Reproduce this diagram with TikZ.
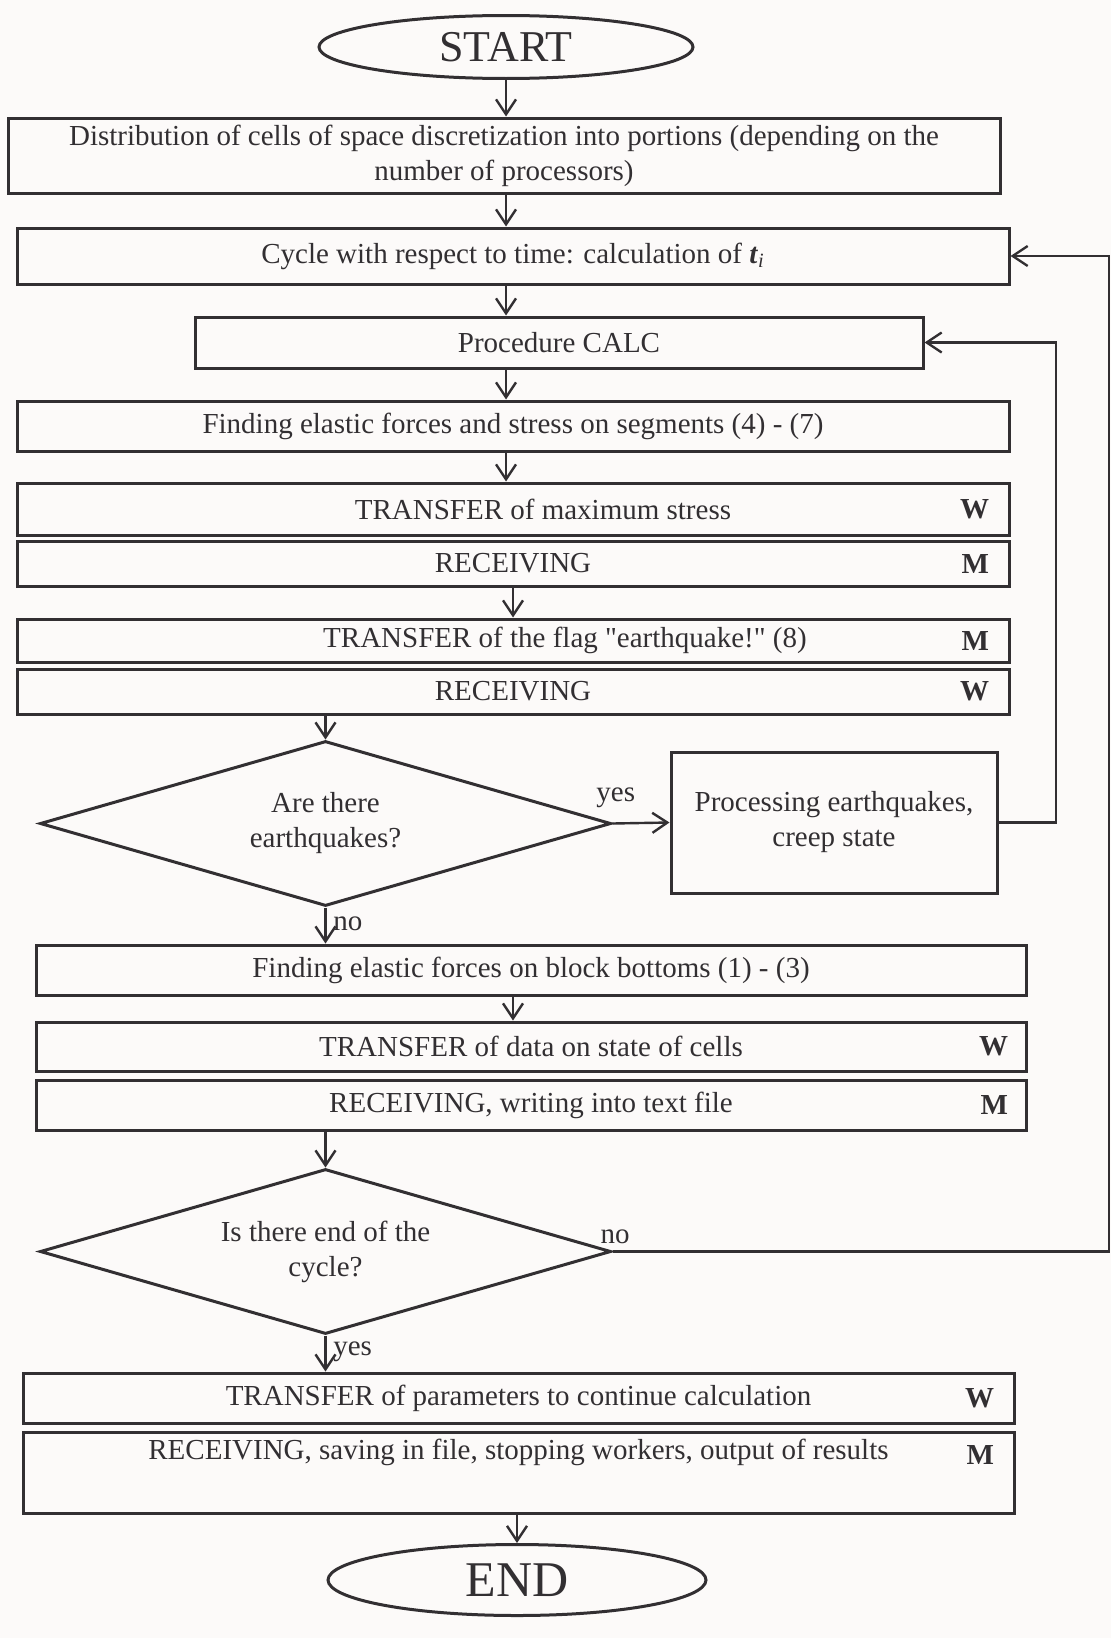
\documentclass[tikz,border=0pt]{standalone}
\usepackage{fontspec}
\setmainfont{Liberation Serif}
\newfontfamily\plainq{Liberation Serif}[Ligatures=TeXOff]
\usetikzlibrary{shapes.geometric,arrows.meta}
\definecolor{ink}{RGB}{50,47,50}
\definecolor{paper}{RGB}{252,250,249}

\begin{document}
\begin{tikzpicture}[x=0.5pt, y=-0.5pt, color=ink, line width=1.5pt,
		font=\fontsize{14.5}{17.5}\selectfont,
		blk/.style={draw, rectangle, minimum width=496pt, inner sep=0pt, align=center},
		test/.style={draw, diamond, aspect=3.46, minimum width=285.5pt, minimum height=82.5pt, inner sep=0pt, align=center},
		who/.style={anchor=east, inner sep=0pt, font=\fontsize{14.5}{17}\selectfont\bfseries},
		arr/.style={-{Straight Barb[length=7.5pt,width=10pt]}, line width=1.2pt}]
		\fill[paper] (0,0) rectangle (1111,1638);
		%
		\node[draw, ellipse, minimum width=187pt, minimum height=31.5pt, inner sep=0pt, font=\fontsize{22}{24}\selectfont] (A) at (506, 47) {START};
		\node[blk, minimum height=37.5pt] (B) at (504, 155.5) {Distribution of cells of space discretization into portions (depending on the\\number of processors)};
		\node[blk, minimum height=28pt] (C) at (513, 256) {Cycle with respect to time: calculation of \textbf{\textit{t}}\textsubscript{\textit{i}}};
		\node[blk, minimum width=364pt, minimum height=25.5pt] (D) at (559, 342.5) {Procedure CALC};
		\node[blk, minimum height=25pt] (E) at (513, 426) {Finding elastic forces and stress on segments (4) - (7)};
		%
		\node[blk, minimum height=26pt] (F) at (513, 509) {\hspace*{30pt}TRANSFER of maximum stress};
		\node[blk, minimum height=22.5pt] (G) at (513, 563.5) {RECEIVING};
		\node[blk, minimum height=21.5pt] (H) at (513, 640.5) {\hspace*{52pt}TRANSFER of the flag {\plainq "earthquake!"} (8)};
		\node[blk, minimum height=22.5pt] (I) at (513, 691.5) {RECEIVING};
		\node[who] (F') at ([xshift=-10pt]F.east) {W}; \node[who] (G') at ([xshift=-10pt]G.east) {M};
		\node[who] (H') at ([xshift=-10pt]H.east) {M}; \node[who] (I') at ([xshift=-10pt]I.east) {W};
		%
		\node[test] (J) at (325.5, 823.5) {Are there\\earthquakes?};
		\node[draw, minimum width=163pt, minimum height=70.5pt, inner sep=0pt, align=center] (K) at (834, 822.5) {Processing earthquakes,\\creep state};
		%
		\node[blk, minimum width=495pt, minimum height=25pt] (L) at (531, 970) {Finding elastic forces on block bottoms (1) - (3)};
		\node[blk, minimum width=495pt, minimum height=24.5pt] (M) at (531, 1046.5) {TRANSFER of data on state of cells};
		\node[blk, minimum width=495pt, minimum height=25pt] (N) at (531, 1105) {RECEIVING, writing into text file};
		\node[who] (M') at ([xshift=-9pt]M.east) {W}; \node[who] (N') at ([xshift=-9pt]N.east) {M};
		%
		\node[test] (O) at (325.5, 1251.5) {Is there end of the\\cycle?};
		%
		\node[blk, minimum width=495.5pt, minimum height=25pt] (Q) at (518.5, 1398) {TRANSFER of parameters to continue calculation};
		\node[blk, minimum width=495.5pt, minimum height=40.5pt] (S) at (518.5, 1472.5) {RECEIVING, saving in file, stopping workers, output of results\\ \strut};
		\node[who] (Q') at ([xshift=-10pt]Q.east) {W}; \node[who] (S') at ([xshift=-10pt, yshift=8.75pt]S.east) {M};
		\node[draw, ellipse, minimum width=189pt, minimum height=35.5pt, inner sep=0pt, font=\fontsize{25}{27}\selectfont] (T) at (517, 1580) {END};
		%
		\coordinate (P) at (1056, 0); % Inner loop line
		\coordinate (R) at (1109, 0); % Outer loop line
		% Drawing the edges
		%% Main column
		\draw[arr] (A.south) -- (A.south |- B.north); \draw[arr] (A.south |- B.south) -- (A.south |- C.north);
		\draw[arr] (A.south |- C.south) -- (A.south |- D.north); \draw[arr] (A.south |- D.south) -- (A.south |- E.north);
		\draw[arr] (A.south |- E.south) -- (A.south |- F.north); \draw[arr] (H.north |- G.south) -- (H.north);
		\draw[arr] (J.north |- I.south) -- (J.north);
		\draw[arr] (J.south) -- (J.south |- L.north) node[pos=0.45, right] {no};
		\draw[arr] (J.east) -- (K.west) node[pos=0, above right, xshift=-12pt, yshift=4pt] {yes};
		\draw[arr] (H.north |- L.south) -- (H.north |- M.north);
		\draw[arr] (O.north |- N.south) -- (O.north);
		\draw[arr] (O.south) -- (O.south |- Q.north) node[pos=0.45, right] {yes};
		\draw[arr] (T.north |- S.south) -- (T.north);
		%% Loops back
		\draw[arr] (K.east) -- (K.east -| P) -- (D.east -| P) -- (D.east);
		\draw[arr] (O.east) -- (O.east -| R) -- (C.east -| R) -- (C.east);
		\node[above right, xshift=-10pt] (no) at (O.east) {no};
	\end{tikzpicture}
\end{document}
